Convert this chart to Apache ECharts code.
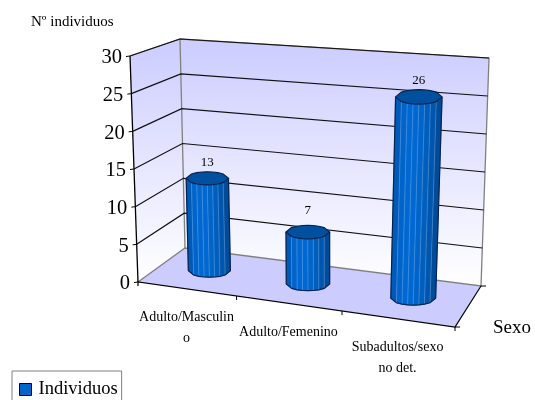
<!DOCTYPE html>
<html>
<head>
<meta charset="utf-8">
<style>html,body{margin:0;padding:0;background:#fff}#chart{width:535px;height:400px}</style>
<script src="https://cdn.jsdelivr.net/npm/echarts@6/dist/echarts.min.js"></script>
</head>
<body>
<div id="chart"></div>
<script>
// Individuals by sex class, as a perspective cylinder chart.
const categories = ['Adulto/Masculin\no', 'Adulto/Femenino', 'Subadultos/sexo\nno det.'];
const individuos = [13, 7, 26];
const yTicks = [0, 5, 10, 15, 20, 25, 30];
const seriesName = 'Individuos';
const yTitle = 'Nº individuos';
const xTitle = 'Sexo';

const SERIF = '"Liberation Serif","Times New Roman",serif';

// Corners of the plot box: front-left, front-right, back-right, back-left.
const FLOOR = [[138, 282], [455, 327], [481, 286], [185, 248]];
const CEILING = [[130, 56], [470, 80], [489, 58], [180, 39]];

// Maps the unit square onto a quadrilateral.
function squareToQuad(q) {
  const [x0, y0] = q[0], [x1, y1] = q[1], [x2, y2] = q[2], [x3, y3] = q[3];
  const dx1 = x1 - x2, dx2 = x3 - x2, dx3 = x0 - x1 + x2 - x3;
  const dy1 = y1 - y2, dy2 = y3 - y2, dy3 = y0 - y1 + y2 - y3;
  const den = dx1 * dy2 - dx2 * dy1;
  const g = (dx3 * dy2 - dx2 * dy3) / den, h = (dx1 * dy3 - dx3 * dy1) / den;
  const a = x1 - x0 + g * x1, b = x3 - x0 + h * x3;
  const d = y1 - y0 + g * y1, e = y3 - y0 + h * y3;
  return (u, v) => {
    const w = g * u + h * v + 1;
    return [(a * u + b * v + x0) / w, (d * u + e * v + y0) / w];
  };
}
const floorMap = squareToQuad(FLOOR);
const ceilingMap = squareToQuad(CEILING);

// u runs along the categories, d into the depth, t up the value axis.
function project(u, d, t) {
  const p = floorMap(u, d), q = ceilingMap(u, d);
  return [p[0] + (q[0] - p[0]) * t, p[1] + (q[1] - p[1]) * t];
}

// Converts a data pair to box fractions through the hidden cartesian axes.
function toBox(params, api, cat, val) {
  const c = api.coord([cat, val]), r = params.coordSys;
  return { u: (c[0] - r.x) / r.width, t: (r.y + r.height - c[1]) / r.height };
}

const line = (points, stroke, lineWidth) => ({
  type: 'polyline', shape: { points }, style: { fill: null, stroke, lineWidth }
});
const wallFill = {
  type: 'linear', x: 0, y: 0, x2: 0, y2: 1,
  colorStops: [{ offset: 0, color: '#ccccff' }, { offset: 1, color: '#ffffff' }]
};

function renderWalls() {
  const c = project;
  const poly = (points, fill) => ({ type: 'polygon', shape: { points }, style: { fill } });
  const grey = '#808080';
  return {
    type: 'group',
    children: [
      poly([c(0, 1, 1), c(1, 1, 1), c(1, 1, 0), c(0, 1, 0)], wallFill),
      poly([c(0, 0, 1), c(0, 1, 1), c(0, 1, 0), c(0, 0, 0)], wallFill),
      poly([c(0, 0, 0), c(1, 0, 0), c(1, 1, 0), c(0, 1, 0)], '#ccccff'),
      line([c(0, 0, 1), c(0, 1, 1), c(1, 1, 1), c(1, 1, 0), c(0, 1, 0), c(0, 0, 0)], grey, 1.3),
      line([c(0, 1, 1), c(0, 1, 0)], grey, 1.3)
    ]
  };
}

function renderGridLine(params, api) {
  const tick = api.value(1);
  const t = toBox(params, api, 0, tick).t;
  const front = project(0, 0, t);
  const children = [
    line([[front[0] - 4, front[1] + 0.5], front], '#000', 1),
    {
      type: 'text',
      style: {
        text: String(tick), x: front[0] - 8, y: front[1] + 2,
        align: 'right', verticalAlign: 'middle',
        fontFamily: SERIF, fontSize: 20.5, fill: '#000'
      }
    }
  ];
  if (tick > 0) {
    children.unshift(line([front, project(0, 1, t), project(1, 1, t)], '#111', 1.2));
  }
  return { type: 'group', children };
}

function renderFrontAxis(params, api) {
  const i = api.value(0);
  const u = toBox(params, api, i, 0).u;
  const step = 1 / categories.length;
  const anchor = project(u, 0, 0);
  const end = project(u + step / 2, 0, 0);
  const children = [
    line([end, [end[0], end[1] + 4]], '#000', 1),
    {
      type: 'text',
      style: {
        text: categories[i], x: anchor[0], y: anchor[1] + 18,
        align: 'center', verticalAlign: 'top', lineHeight: 21,
        fontFamily: SERIF, fontSize: 14, fill: '#000'
      }
    }
  ];
  if (i === 0) {
    const a = project(0, 0, 0), fr = project(1, 0, 0), br = project(1, 1, 0);
    children.push(line([[a[0], a[1] + 4], a, fr, br, [br[0] + 5, br[1]]], '#000', 1.2));
    children.push(line([fr, [fr[0] + 5, fr[1]]], '#000', 1));
    children.push(line([project(0, 0, 1), a], '#000', 1.3));
  }
  return { type: 'group', children };
}

// Facet shades across a cylinder, left to right.
const FACET_SHADES = ['#005ab8', '#0064ca', '#0068d0', '#0068d0', '#0064c8', '#005ebc', '#0056ac', '#004c9a'];
const CYL_DEPTH = 0.5, CYL_RADIUS = 0.07, CYL_FLAT = 0.31, CYL_BASE_R = 22;
// Cylinder height foreshortening, along the category direction.
const CYL_HEIGHT_LEFT = 0.96, CYL_HEIGHT_RIGHT = 1;
// Gap between each cylinder's top and its value label.
const LABEL_LIFT = [16, 21, 16];

function ellipsePoints(cx, cy, rx, ry, upper) {
  const n = FACET_SHADES.length, pts = [];
  for (let i = 0; i <= n; i++) {
    const k = -1 + 2 * i / n;
    pts.push([cx + rx * k, cy + (upper ? -1 : 1) * ry * Math.sqrt(Math.max(0, 1 - k * k))]);
  }
  return pts;
}

function renderCylinder(params, api) {
  const i = api.value(0), v = api.value(1);
  const box = toBox(params, api, i, v);
  const u = box.u, t = box.t * (CYL_HEIGHT_LEFT + (CYL_HEIGHT_RIGHT - CYL_HEIGHT_LEFT) * u);
  const base = project(u, CYL_DEPTH, 0), top = project(u, CYL_DEPTH, t);
  const half = (tt) => {
    const a = project(u - CYL_RADIUS, CYL_DEPTH, tt), b = project(u + CYL_RADIUS, CYL_DEPTH, tt);
    return (Math.abs(b[0] - a[0]) / 2 + CYL_BASE_R) / 2;
  };
  const rxB = half(0), rxT = half(t);
  const lowB = ellipsePoints(base[0], base[1], rxB, rxB * CYL_FLAT, false);
  const lowT = ellipsePoints(top[0], top[1], rxT, rxT * CYL_FLAT, false);
  const upT = ellipsePoints(top[0], top[1], rxT, rxT * CYL_FLAT, true);
  const children = [];
  FACET_SHADES.forEach((shade, k) => {
    children.push({
      type: 'polygon',
      shape: { points: [lowT[k], lowT[k + 1], lowB[k + 1], lowB[k]] },
      style: { fill: shade, stroke: shade, lineWidth: 0.5 }
    });
    if (k > 0) {
      children.push(line([lowT[k], lowB[k]], 'rgba(130,185,245,0.38)', 1));
    }
  });
  const outline = '#06234f';
  const rim = lowT.concat(upT.slice().reverse());
  children.push({
    type: 'polygon', shape: { points: rim },
    style: { fill: '#00509f', stroke: outline, lineWidth: 1.2 }
  });
  children.push(line([lowT[0]].concat(lowB, [lowT[lowT.length - 1]]), outline, 1.2));
  children.push({
    type: 'text',
    style: {
      text: String(v), x: top[0], y: top[1] - LABEL_LIFT[i],
      align: 'center', verticalAlign: 'middle',
      fontFamily: SERIF, fontSize: 13, fill: '#000'
    }
  });
  return { type: 'group', children };
}

const chart = echarts.init(document.getElementById('chart'), null, { renderer: 'canvas' });
chart.setOption({
  animation: false,
  backgroundColor: '#ffffff',
  // The cartesian axes stay hidden: they supply the scales for the projected box.
  grid: { left: 100, right: 100, top: 50, bottom: 100 },
  xAxis: { type: 'category', data: categories, show: false },
  yAxis: { type: 'value', min: 0, max: 30, interval: 5, show: false },
  legend: {
    left: 12, top: 371, padding: [9, 4, 15, 7],
    data: [seriesName], icon: 'rect', itemWidth: 12, itemHeight: 12, itemGap: 4,
    borderColor: '#808080', borderWidth: 1, borderRadius: 0,
    itemStyle: { color: '#0066cc', borderColor: '#000', borderWidth: 1 },
    textStyle: { fontFamily: SERIF, fontSize: 18.5, color: '#000', padding: [0, 0, 0, 2] }
  },
  graphic: [
    { type: 'text', left: 31, top: 15, style: { text: yTitle, font: '15px ' + SERIF, fill: '#000' } },
    { type: 'text', left: 493, top: 319, style: { text: xTitle, font: '19px ' + SERIF, fill: '#000' } }
  ],
  series: [
    { type: 'custom', silent: true, z: 1, data: [[0, 0]], renderItem: renderWalls },
    { type: 'custom', silent: true, z: 2, data: yTicks.map(v => [0, v]), renderItem: renderGridLine },
    { type: 'custom', silent: true, z: 3, data: categories.map((c, i) => [i, 0]), renderItem: renderFrontAxis },
    {
      type: 'custom', name: seriesName, silent: true, z: 4,
      itemStyle: { color: '#0066cc' },
      data: individuos.map((v, i) => [i, v]), renderItem: renderCylinder
    }
  ]
});
</script>
</body>
</html>
